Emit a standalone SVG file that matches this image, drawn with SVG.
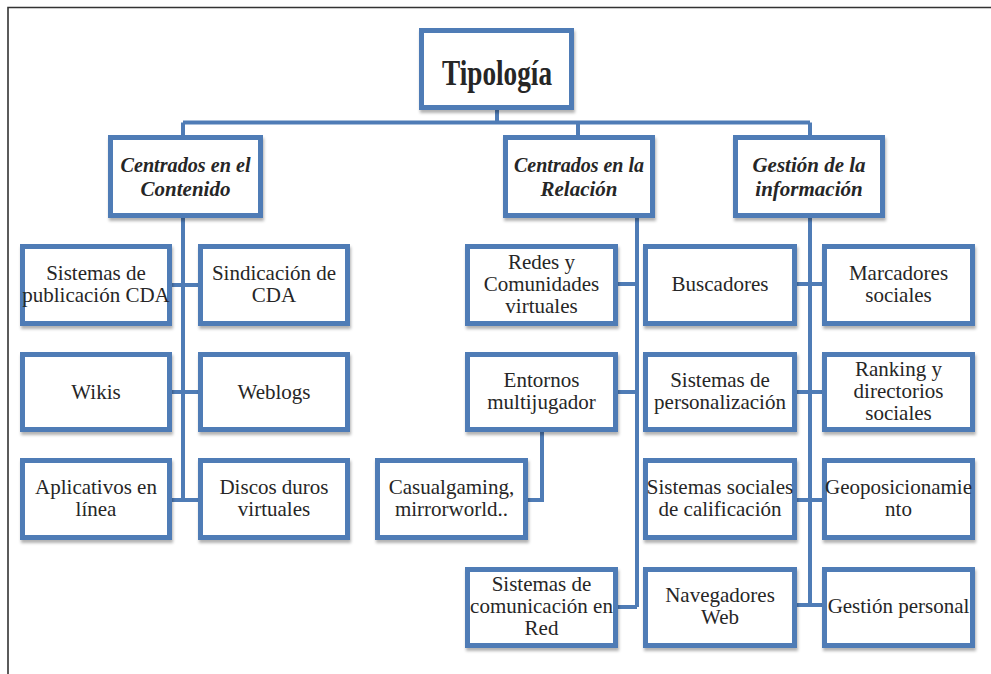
<svg xmlns="http://www.w3.org/2000/svg" width="991" height="674" viewBox="0 0 991 674">
<style>
.box{fill:#fff;stroke:#4F7CB6;stroke-width:5;filter:url(#sh)}
.t{font-family:"Liberation Serif","Times New Roman",serif;font-size:21px;fill:#262626;text-anchor:middle}
.h{font-family:"Liberation Serif","Times New Roman",serif;font-size:21px;font-weight:bold;font-style:italic;fill:#262626;text-anchor:middle}
.c{fill:none;stroke:#4F7CB6;stroke-width:4}
</style>
<defs>
<filter id="sh" x="-10%" y="-10%" width="125%" height="130%">
<feDropShadow dx="1" dy="3" stdDeviation="1.8" flood-color="#000" flood-opacity="0.3"/>
</filter>
</defs>
<rect width="991" height="674" fill="#fff"/>
<path d="M8,674 V7.5 H991" fill="none" stroke="#333" stroke-width="1.6"/>

<g id="connectors">
<path class="c" d="M497,110 V122.5"/>
<path class="c" d="M183,122.5 H810" stroke-width="5"/>
<path class="c" d="M183,122.5 V137 M578,122.5 V137 M810,122.5 V137"/>
<path class="c" d="M183,218 V500 M170,285 H200 M170,392 H200 M170,500 H200"/>
<path class="c" d="M637,218 V607 M616,284 H637 M616,392 H637 M616,607 H637"/>
<path class="c" d="M542,432 V500 H526"/>
<path class="c" d="M810,218 V605 M795,284 H824 M795,392 H824 M795,500 H824 M795,605 H824"/>
</g>

<g id="tipologia">
<rect class="box" x="421.5" y="30.5" width="150" height="77"/>
<text x="497" y="85" font-family="Liberation Serif,serif" font-size="36" font-weight="bold" fill="#262626" text-anchor="middle" textLength="110" lengthAdjust="spacingAndGlyphs">Tipología</text>
</g>

<g id="contenido">
<rect class="box" x="110.5" y="137.5" width="150" height="78"/>
<text class="h" x="185.5" y="172" textLength="130" lengthAdjust="spacingAndGlyphs">Centrados en el</text>
<text class="h" x="185.5" y="196">Contenido</text>
</g>
<g id="relacion">
<rect class="box" x="505.5" y="137.5" width="147" height="78"/>
<text class="h" x="579" y="172" textLength="130" lengthAdjust="spacingAndGlyphs">Centrados en la</text>
<text class="h" x="579" y="196">Relación</text>
</g>
<g id="gestion">
<rect class="box" x="735.5" y="137.5" width="147" height="78"/>
<text class="h" x="809" y="172">Gestión de la</text>
<text class="h" x="809" y="196">información</text>
</g>

<g id="sistemas-publicacion">
<rect class="box" x="22.5" y="246.5" width="147" height="77"/>
<text class="t" x="96" y="280">Sistemas de</text>
<text class="t" x="96" y="302">publicación CDA</text>
</g>
<g id="sindicacion">
<rect class="box" x="200.5" y="246.5" width="147" height="77"/>
<text class="t" x="274" y="280">Sindicación de</text>
<text class="t" x="274" y="302">CDA</text>
</g>
<g id="wikis">
<rect class="box" x="22.5" y="354.5" width="147" height="75"/>
<text class="t" x="96" y="399">Wikis</text>
</g>
<g id="weblogs">
<rect class="box" x="200.5" y="354.5" width="147" height="75"/>
<text class="t" x="274" y="399">Weblogs</text>
</g>
<g id="aplicativos">
<rect class="box" x="22.5" y="460.5" width="147" height="77"/>
<text class="t" x="96" y="494">Aplicativos en</text>
<text class="t" x="96" y="516">línea</text>
</g>
<g id="discos">
<rect class="box" x="200.5" y="460.5" width="147" height="77"/>
<text class="t" x="274" y="494">Discos duros</text>
<text class="t" x="274" y="516">virtuales</text>
</g>

<g id="redes">
<rect class="box" x="467.5" y="246.5" width="148" height="77"/>
<text class="t" x="541.5" y="269">Redes y</text>
<text class="t" x="541.5" y="291">Comunidades</text>
<text class="t" x="541.5" y="313">virtuales</text>
</g>
<g id="entornos">
<rect class="box" x="467.5" y="354.5" width="148" height="75"/>
<text class="t" x="541.5" y="387">Entornos</text>
<text class="t" x="541.5" y="409">multijugador</text>
</g>
<g id="casualgaming">
<rect class="box" x="377.5" y="460.5" width="148" height="77"/>
<text class="t" x="451.5" y="494">Casualgaming,</text>
<text class="t" x="451.5" y="516">mirrorworld..</text>
</g>
<g id="comunicacion">
<rect class="box" x="467.5" y="569.5" width="148" height="76"/>
<text class="t" x="541.5" y="591">Sistemas de</text>
<text class="t" x="541.5" y="613">comunicación en</text>
<text class="t" x="541.5" y="635">Red</text>
</g>

<g id="buscadores">
<rect class="box" x="645.5" y="246.5" width="149" height="77"/>
<text class="t" x="720" y="291">Buscadores</text>
</g>
<g id="personalizacion">
<rect class="box" x="645.5" y="354.5" width="149" height="75"/>
<text class="t" x="720" y="387">Sistemas de</text>
<text class="t" x="720" y="409">personalización</text>
</g>
<g id="calificacion">
<rect class="box" x="645.5" y="460.5" width="149" height="77"/>
<text class="t" x="720" y="494">Sistemas sociales</text>
<text class="t" x="720" y="516">de calificación</text>
</g>
<g id="navegadores">
<rect class="box" x="645.5" y="569.5" width="149" height="76"/>
<text class="t" x="720" y="602">Navegadores</text>
<text class="t" x="720" y="624">Web</text>
</g>

<g id="marcadores">
<rect class="box" x="824.5" y="246.5" width="148" height="77"/>
<text class="t" x="898.5" y="280">Marcadores</text>
<text class="t" x="898.5" y="302">sociales</text>
</g>
<g id="ranking">
<rect class="box" x="824.5" y="354.5" width="148" height="75"/>
<text class="t" x="898.5" y="376">Ranking y</text>
<text class="t" x="898.5" y="398">directorios</text>
<text class="t" x="898.5" y="420">sociales</text>
</g>
<g id="geoposicionamiento">
<rect class="box" x="824.5" y="460.5" width="148" height="77"/>
<text class="t" x="898.5" y="494" textLength="147" lengthAdjust="spacingAndGlyphs">Geoposicionamie</text>
<text class="t" x="898.5" y="516">nto</text>
</g>
<g id="gestion-personal">
<rect class="box" x="824.5" y="569.5" width="148" height="76"/>
<text class="t" x="898.5" y="613">Gestión personal</text>
</g>
</svg>
